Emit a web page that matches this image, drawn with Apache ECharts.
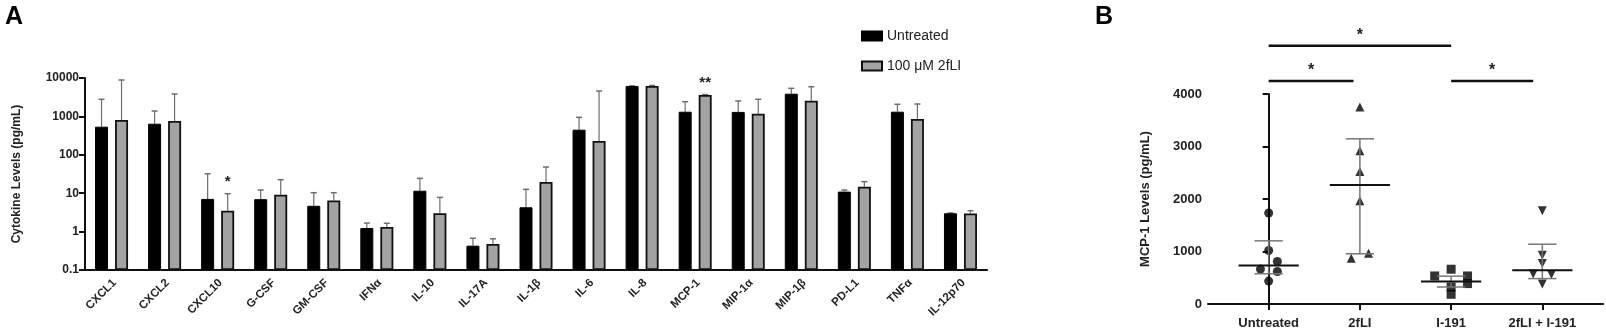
<!DOCTYPE html>
<html>
<head>
<meta charset="utf-8">
<script src="https://cdn.jsdelivr.net/npm/echarts@6/dist/echarts.min.js"></script>
<style>
  html, body { margin: 0; padding: 0; background: #fff; }
  #chart-container { width: 1606px; height: 333px; }
</style>
</head>
<body>
<div id="chart-container"></div>
<script>
var dom = document.getElementById("chart-container");
var myChart = echarts.init(dom, null, { renderer: "canvas" });

// ---- Panel A: cytokine levels (log scale) ----
var cytokines = ["CXCL1", "CXCL2", "CXCL10", "G-CSF", "GM-CSF", "IFNα", "IL-10", "IL-17A",
  "IL-1β", "IL-6", "IL-8", "MCP-1", "MIP-1α", "MIP-1β", "PD-L1", "TNFα", "IL-12p70"];
var untreated = [540, 645, 7.1, 7.0, 4.7, 1.24, 11.6, 0.43, 4.3, 451, 6190, 1325, 1310, 3900, 11, 1325, 3.0];
var untreatedUpper = [2790, 1380, 32, 12.1, 10.3, 1.67, 24.4, 0.67, 12.6, 946, 6250, 2415, 2520, 5390, 12.1, 2065, 3.05];
var treated = [806, 760, 3.5, 9.1, 6.5, 1.32, 3.0, 0.475, 19.6, 229, 6190, 3610, 1175, 2565, 14.8, 855, 2.95];
var treatedUpper = [8870, 3830, 9.7, 22.5, 10.3, 1.65, 7.8, 0.65, 48, 4580, 6400, 3700, 2790, 5930, 20, 2100, 3.5];
var treatedSig = ["", "", "*", "", "", "", "", "", "", "", "", "**", "", "", "", "", ""];

// ---- Panel B: MCP-1 levels ----
var groups = ["Untreated", "2fLI", "I-191", "2fLI + I-191"];
var untreatedPts = [1734, 1019, 810, 665, 620, 437];
var untreatedJitter = [0, 0, 0.095, -0.09, 0.095, 0];
var fliPts = [3753, 2918, 2525, 1968, 873, 968];
var fliJitter = [0, 0, 0, 0, -0.095, 0.095];
var i191Pts = [534, 662, 324, 185, 534, 389];
var i191Jitter = [-0.18, 0, 0, 0, 0.18, 0.18];
var comboPts = [1778, 930, 770, 570, 560, 380];
var comboJitter = [0, 0, 0, -0.1, 0.1, 0];
var groupCenter = [734, 2266, 427, 643];
var groupUpper = [1203, 3146, 530, 1139];
var groupLower = [576, 956, 324, 484];
// significance brackets: [from group, to group, level]
var sigBars = [[0, 0.93, 4250], [0, 2, 4920], [2, 2.9, 4250]];
var sigLabels = ["*", "*", "*"];

var FONT = "Liberation Sans, Arial, sans-serif";
var BAR_W = 13, BAR_GAP = 7;
var barOffset = (BAR_W + BAR_GAP) / 2;

function pts(values, jitter, g) {
  return values.map(function (v, i) { return [g + jitter[i], v]; });
}

function errorRender(offset, sigs) {
  return function (params, api) {
    var base = api.coord([api.value(0), api.value(1)]);
    var top = api.coord([api.value(0), api.value(2)]);
    var cx = base[0] + offset;
    var children = [
      { type: "line", shape: { x1: cx, y1: base[1], x2: cx, y2: top[1] }, style: { stroke: "#6e6e6e", lineWidth: 1.2 } },
      { type: "line", shape: { x1: cx - 3, y1: top[1], x2: cx + 3, y2: top[1] }, style: { stroke: "#6e6e6e", lineWidth: 1.5 } }
    ];
    var s = sigs && sigs[params.dataIndex];
    if (s) {
      children.push({
        type: "text",
        style: { text: s, x: cx, y: top[1] - 4, align: "center", verticalAlign: "bottom",
          font: "bold 15px " + FONT, fill: "#222" }
      });
    }
    return { type: "group", children: children };
  };
}

function summaryRender(params, api) {
  var i = api.value(0);
  var c0 = api.coord([i - 0.33, api.value(1)]);
  var c1 = api.coord([i + 0.33, api.value(1)]);
  var up0 = api.coord([i - 0.155, api.value(2)]);
  var up1 = api.coord([i + 0.155, api.value(2)]);
  var lo0 = api.coord([i - 0.155, api.value(3)]);
  var lo1 = api.coord([i + 0.155, api.value(3)]);
  var mx = (c0[0] + c1[0]) / 2;
  var grey = { stroke: "#777", lineWidth: 1.5 };
  return {
    type: "group",
    children: [
      { type: "line", shape: { x1: mx, y1: up0[1], x2: mx, y2: lo0[1] }, style: grey },
      { type: "line", shape: { x1: up0[0], y1: up0[1], x2: up1[0], y2: up1[1] }, style: grey },
      { type: "line", shape: { x1: lo0[0], y1: lo0[1], x2: lo1[0], y2: lo1[1] }, style: grey },
      { type: "line", shape: { x1: c0[0], y1: c0[1], x2: c1[0], y2: c1[1] }, style: { stroke: "#111", lineWidth: 2 } }
    ]
  };
}

function sigRender(params, api) {
  var a = api.coord([api.value(0), api.value(2)]);
  var b = api.coord([api.value(1), api.value(2)]);
  return {
    type: "group",
    children: [
      { type: "line", shape: { x1: a[0], y1: a[1], x2: b[0], y2: b[1] }, style: { stroke: "#111", lineWidth: 2.5 } },
      { type: "text", style: { text: sigLabels[params.dataIndex], x: (a[0] + b[0]) / 2, y: a[1] - 2,
          align: "center", verticalAlign: "bottom", font: "bold 16px " + FONT, fill: "#222" } }
    ]
  };
}

var option = {
  animation: false,
  textStyle: { fontFamily: FONT },
  title: [
    { text: "A", left: 0, top: 0, textStyle: { fontSize: 25, fontWeight: "bold", color: "#000" } },
    { text: "B", left: 1090, top: 0, textStyle: { fontSize: 25, fontWeight: "bold", color: "#000" } }
  ],
  legend: {
    orient: "vertical",
    left: 856,
    top: 24,
    itemWidth: 20,
    itemHeight: 9,
    itemGap: 16,
    icon: "rect",
    textStyle: { fontSize: 14, color: "#222" },
    data: ["Untreated", "100 μM 2fLI"]
  },
  grid: [
    { left: 85, top: 78, width: 902, height: 192 },
    { left: 1208, top: 94, right: 3, height: 210 }
  ],
  xAxis: [
    {
      type: "category",
      gridIndex: 0,
      data: cytokines,
      axisLine: { lineStyle: { color: "#111", width: 2 } },
      axisTick: { alignWithLabel: true, length: 6, lineStyle: { color: "#111", width: 2 } },
      // labels are drawn below as rotated text at each tick
      axisLabel: { show: false }
    },
    {
      type: "value",
      gridIndex: 1,
      min: -0.665,
      max: 3.665,
      splitLine: { show: false },
      axisLine: { lineStyle: { color: "#111", width: 2 } },
      axisTick: { customValues: [0, 1, 2, 3], length: 6, lineStyle: { color: "#111", width: 2 } },
      axisLabel: {
        customValues: [0, 1, 2, 3], margin: 13, fontSize: 13, fontWeight: "bold", color: "#222",
        formatter: function (v) { return groups[Math.round(v)]; }
      }
    }
  ],
  yAxis: [
    {
      type: "log",
      gridIndex: 0,
      min: 0.1,
      max: 10000,
      startValue: 0.1,
      name: "Cytokine Levels (pg/mL)",
      nameLocation: "middle",
      nameGap: 62,
      nameTextStyle: { fontSize: 12, fontWeight: "bold", color: "#222" },
      splitLine: { show: false },
      axisLine: { show: true, lineStyle: { color: "#111", width: 2 } },
      axisTick: { show: true, length: 6, lineStyle: { color: "#111", width: 2 } },
      axisLabel: {
        fontSize: 12, fontWeight: "bold", color: "#222", margin: 6,
        formatter: function (v) { return v < 1 ? "0.1" : String(Math.round(v)); }
      }
    },
    {
      type: "value",
      gridIndex: 1,
      min: 0,
      max: 4000,
      interval: 1000,
      name: "MCP-1 Levels (pg/mL)",
      nameLocation: "middle",
      nameGap: 56,
      nameTextStyle: { fontSize: 13, fontWeight: "bold", color: "#222" },
      splitLine: { show: false },
      axisLine: { show: true, lineStyle: { color: "#111", width: 2 } },
      axisTick: { show: true, length: 6, lineStyle: { color: "#111", width: 2 } },
      axisLabel: { fontSize: 13, fontWeight: "bold", color: "#222", margin: 6,
        formatter: function (v) { return String(v); } }
    }
  ],
  series: [
    {
      name: "Untreated",
      type: "bar",
      barWidth: BAR_W,
      barGap: "54%",
      itemStyle: { color: "#000", borderColor: "#000", borderWidth: 1 },
      data: untreated
    },
    {
      name: "100 μM 2fLI",
      type: "bar",
      barWidth: BAR_W,
      itemStyle: { color: "#a3a3a3", borderColor: "#111", borderWidth: 1.8 },
      data: treated
    },
    {
      type: "custom",
      z: 1,
      renderItem: errorRender(-barOffset, null),
      data: untreated.map(function (v, i) { return [i, v, untreatedUpper[i]]; })
    },
    {
      type: "custom",
      z: 1,
      renderItem: errorRender(barOffset, treatedSig),
      data: treated.map(function (v, i) { return [i, v, treatedUpper[i]]; })
    },
    {
      type: "scatter", xAxisIndex: 1, yAxisIndex: 1, symbol: "circle", symbolSize: 9,
      itemStyle: { color: "#000" }, data: pts(untreatedPts, untreatedJitter, 0)
    },
    {
      type: "scatter", xAxisIndex: 1, yAxisIndex: 1, symbol: "triangle", symbolSize: 9,
      itemStyle: { color: "#000" }, data: pts(fliPts, fliJitter, 1)
    },
    {
      type: "scatter", xAxisIndex: 1, yAxisIndex: 1, symbol: "rect", symbolSize: 9,
      itemStyle: { color: "#000" }, data: pts(i191Pts, i191Jitter, 2)
    },
    {
      type: "scatter", xAxisIndex: 1, yAxisIndex: 1, symbol: "triangle", symbolRotate: 180, symbolSize: 9,
      itemStyle: { color: "#000" }, data: pts(comboPts, comboJitter, 3)
    },
    {
      type: "custom",
      xAxisIndex: 1,
      yAxisIndex: 1,
      z: 5,
      renderItem: summaryRender,
      data: groupCenter.map(function (v, i) { return [i, v, groupUpper[i], groupLower[i]]; })
    },
    {
      type: "custom",
      xAxisIndex: 1,
      yAxisIndex: 1,
      clip: false,
      renderItem: sigRender,
      data: sigBars
    }
  ]
};

myChart.setOption(option);

// Cytokine names as 45-degree text, right end anchored under each category tick
var axisY = myChart.convertToPixel({ yAxisIndex: 0 }, 0.1);
var catLabels = cytokines.map(function (name, i) {
  var x = myChart.convertToPixel({ xAxisIndex: 0 }, i);
  return {
    type: "text",
    x: x + 3,
    y: axisY + 11,
    rotation: Math.PI / 4,
    style: { text: name, align: "right", verticalAlign: "middle",
      font: "bold 11.5px " + FONT, fill: "#222" }
  };
});
myChart.setOption({ graphic: catLabels });

window.addEventListener("resize", function () {
  myChart.resize();
});
</script>
</body>
</html>
